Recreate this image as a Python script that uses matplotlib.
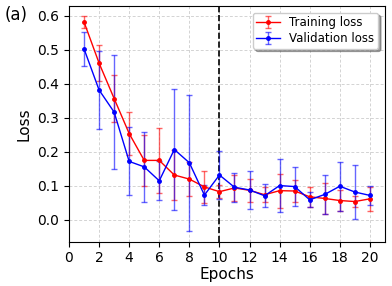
import matplotlib
matplotlib.use('Agg')
import matplotlib.pyplot as plt
import numpy as np

epochs = np.arange(1, 21)
train_loss = [0.582, 0.461, 0.357, 0.254, 0.175, 0.175, 0.132, 0.120, 0.097, 0.083,
              0.094, 0.087, 0.074, 0.086, 0.085, 0.068, 0.063, 0.057, 0.054, 0.062]
train_err = [0.018, 0.052, 0.070, 0.063, 0.075, 0.096, 0.074, 0.050, 0.047, 0.020,
             0.037, 0.034, 0.022, 0.050, 0.032, 0.030, 0.045, 0.030, 0.017, 0.035]
val_loss = [0.503, 0.382, 0.317, 0.172, 0.156, 0.115, 0.207, 0.168, 0.073, 0.132,
            0.096, 0.088, 0.071, 0.101, 0.098, 0.059, 0.075, 0.099, 0.082, 0.072]
val_err = [0.050, 0.115, 0.167, 0.100, 0.103, 0.057, 0.178, 0.200, 0.029, 0.070,
           0.042, 0.056, 0.034, 0.078, 0.057, 0.022, 0.058, 0.072, 0.080, 0.028]

fig = plt.figure(figsize=(3.92, 2.86), dpi=100)
ax = fig.add_axes([0.176, 0.155, 0.806, 0.824])

ax.errorbar(epochs, train_loss, yerr=train_err, color='red', ecolor=(1, 0, 0, 0.6),
            marker='o', markersize=2.5, linewidth=1, elinewidth=1, capsize=2.5,
            label='Training loss', zorder=3)
ax.errorbar(epochs, val_loss, yerr=val_err, color='blue', ecolor=(0, 0, 1, 0.6),
            marker='o', markersize=2.5, linewidth=1, elinewidth=1, capsize=2.5,
            label='Validation loss', zorder=3)
ax.axvline(10, color='black', linestyle='--', linewidth=1.2)

ax.set_xlim(0, 21)
ax.set_ylim(-0.064, 0.629)
ax.set_xticks(np.arange(0, 21, 2))
ax.set_yticks(np.arange(0, 0.61, 0.1))
ax.grid(True, linestyle=(0, (3, 2)), color='lightgray', linewidth=0.7)
ax.tick_params(labelsize=10)
ax.set_xlabel('Epochs', fontsize=11, labelpad=1)
ax.set_ylabel('Loss', fontsize=11)
ax.legend(loc='upper right', fontsize=8.5, shadow=True, handlelength=2,
          labelspacing=0.25, borderpad=0.3, bbox_to_anchor=(0.997, 0.997))
fig.text(0.012, 0.93, '(a)', fontsize=12)

fig.savefig('out.png', dpi=100)
